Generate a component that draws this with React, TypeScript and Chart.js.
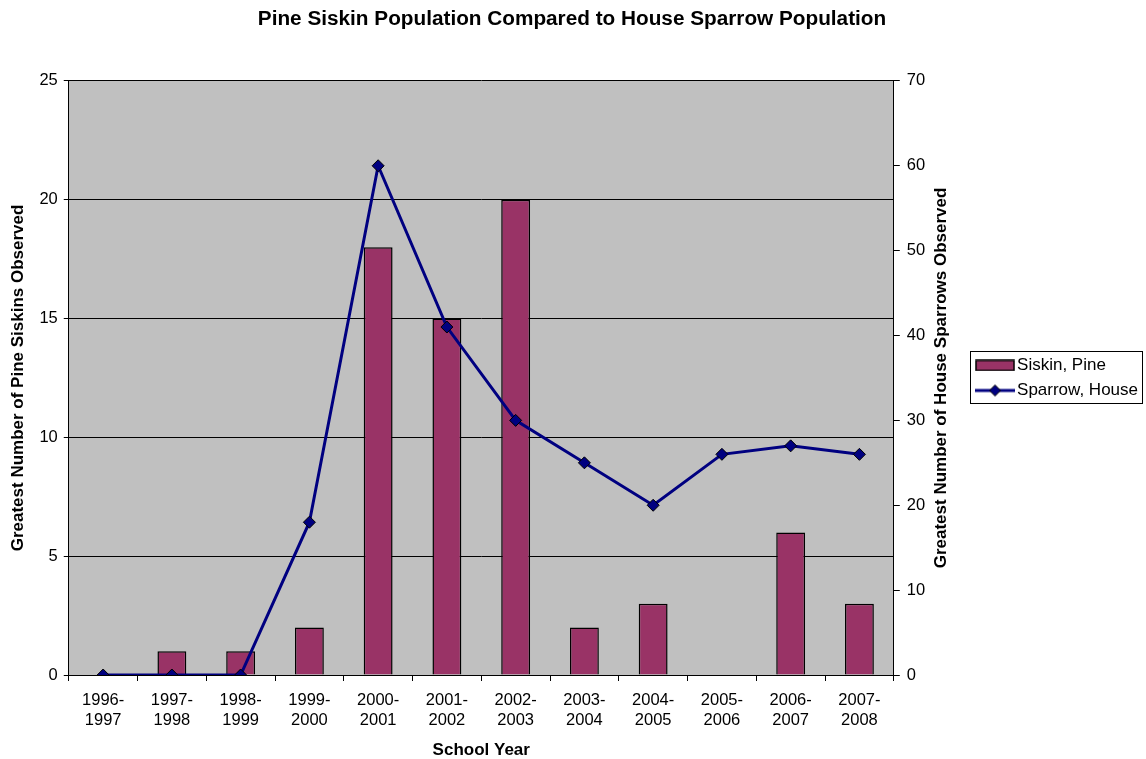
import React, { useEffect, useRef } from "react";
import { Chart, registerables } from "chart.js";

Chart.register(...registerables);

const categories: string[][] = [
  ["1996-", "1997"], ["1997-", "1998"], ["1998-", "1999"], ["1999-", "2000"],
  ["2000-", "2001"], ["2001-", "2002"], ["2002-", "2003"], ["2003-", "2004"],
  ["2004-", "2005"], ["2005-", "2006"], ["2006-", "2007"], ["2007-", "2008"],
];
const siskinPine: number[] = [0, 1, 1, 2, 18, 15, 20, 2, 3, 0, 6, 3];
const sparrowHouse: number[] = [0, 0, 0, 18, 60, 41, 30, 25, 20, 26, 27, 26];

const FONT = "'Liberation Sans', Arial, sans-serif";
const BAR_COLOR = "#993366";
const LINE_COLOR = "#000080";
const TICK_SIZE = 16.5;
const LEGEND_SIZE = 17;
const AXIS_TITLE_SIZE = 17;
const TITLE_SIZE = 20.75;
const TITLE_TEXT = "Pine Siskin Population Compared to House Sparrow Population";

function makeBarSwatch(): HTMLCanvasElement {
  const c = document.createElement("canvas");
  c.width = 40; c.height = 12;
  const ctx = c.getContext("2d")!;
  ctx.fillStyle = BAR_COLOR;
  ctx.fillRect(1, 1, 38, 10);
  ctx.strokeStyle = "#000";
  ctx.lineWidth = 1.5;
  ctx.strokeRect(1, 1, 38, 10);
  return c;
}
function makeLineSwatch(): HTMLCanvasElement {
  const c = document.createElement("canvas");
  c.width = 40; c.height = 14;
  const ctx = c.getContext("2d")!;
  ctx.strokeStyle = LINE_COLOR;
  ctx.lineWidth = 3;
  ctx.beginPath(); ctx.moveTo(0, 7); ctx.lineTo(40, 7); ctx.stroke();
  ctx.fillStyle = LINE_COLOR;
  ctx.strokeStyle = "#000";
  ctx.lineWidth = 1;
  ctx.beginPath();
  ctx.moveTo(20, 1.5); ctx.lineTo(25.5, 7); ctx.lineTo(20, 12.5); ctx.lineTo(14.5, 7); ctx.closePath();
  ctx.fill(); ctx.stroke();
  return c;
}

export default function App() {
  const ref = useRef<HTMLCanvasElement>(null);
  useEffect(() => {
    if (!ref.current) return;
    const barSw = makeBarSwatch();
    const lineSw = makeLineSwatch();
    const rightTitle = "Greatest Number of House Sparrows Observed";

    const plugin = {
      id: "decor",
      beforeDraw(chart: any) {
        const { ctx, chartArea } = chart;
        ctx.save();
        ctx.fillStyle = "#C0C0C0";
        ctx.fillRect(chartArea.left, chartArea.top, chartArea.right - chartArea.left, chartArea.bottom - chartArea.top);
        ctx.restore();
      },
      afterDraw(chart: any) {
        const { ctx } = chart;
        // main title
        const tb = chart.titleBlock;
        if (tb) {
          ctx.save();
          ctx.font = `bold ${TITLE_SIZE}px ${FONT}`;
          ctx.fillStyle = "#000";
          ctx.textAlign = "center";
          ctx.textBaseline = "middle";
          const ty = tb.top + 7 + (TITLE_SIZE * 1.2) / 2;
          ctx.fillText(TITLE_TEXT, chart.width / 2 - 1, ty);
          ctx.restore();
        }
        const lg = chart.legend;
        if (lg && lg.legendHitBoxes && lg.legendHitBoxes.length) {
          const hb = lg.legendHitBoxes;
          let l = Infinity, t = Infinity, r = -Infinity, b = -Infinity;
          hb.forEach((h: any) => {
            l = Math.min(l, h.left); t = Math.min(t, h.top);
            r = Math.max(r, h.left + h.width); b = Math.max(b, h.top + h.height);
          });
          ctx.save();
          ctx.strokeStyle = "#000";
          ctx.lineWidth = 1;
          ctx.strokeRect(Math.round(l - 11.5) + 0.5, Math.round(t - 5.5) + 0.5, Math.round(r - l + 16), Math.round(b - t + 10));
          ctx.restore();
        }
        const y1 = chart.scales.y1;
        if (y1) {
          ctx.save();
          ctx.font = `bold ${AXIS_TITLE_SIZE}px ${FONT}`;
          ctx.fillStyle = "#000";
          ctx.textAlign = "center";
          ctx.textBaseline = "middle";
          const x = chart.chartArea.right + 48;
          const y = (chart.chartArea.top + chart.chartArea.bottom) / 2;
          ctx.translate(x, y);
          ctx.rotate(-Math.PI / 2);
          ctx.fillText(rightTitle, 0, 0);
          ctx.restore();
        }
      },
    };

    const chart = new Chart(ref.current, {
      type: "bar",
      data: {
        labels: categories,
        datasets: [
          {
            type: "bar",
            label: "Siskin, Pine",
            data: siskinPine,
            backgroundColor: BAR_COLOR,
            borderColor: "#000",
            borderWidth: 1.5,
            barPercentage: 0.42,
            categoryPercentage: 1,
            yAxisID: "y",
            order: 2,
          } as any,
          {
            type: "line",
            label: "Sparrow, House",
            data: sparrowHouse,
            borderColor: LINE_COLOR,
            backgroundColor: LINE_COLOR,
            borderWidth: 3,
            tension: 0,
            pointStyle: "rectRot",
            pointRadius: 6,
            pointBorderColor: "#000",
            pointBackgroundColor: LINE_COLOR,
            pointBorderWidth: 1,
            yAxisID: "y1",
            order: 1,
          } as any,
        ],
      },
      options: {
        animation: false,
        responsive: false,
        maintainAspectRatio: false,
        layout: { padding: { left: 8, right: -2, top: 0, bottom: -2 } },
        plugins: {
          title: {
            display: true,
            text: TITLE_TEXT,
            color: "rgba(0,0,0,0)",
            font: { family: FONT, size: TITLE_SIZE, weight: "bold" },
            padding: { top: 7, bottom: 49 },
          },
          tooltip: { enabled: false },
          legend: {
            display: true,
            position: "right",
            fullSize: false,
            labels: {
              color: "#000",
              font: { family: FONT, size: LEGEND_SIZE },
              usePointStyle: true,
              pointStyleWidth: 27,
              boxHeight: 12,
              padding: 8,
              sort: (a: any, b: any) => a.datasetIndex - b.datasetIndex,
              generateLabels: (chart: any) =>
                chart.data.datasets.map((ds: any, i: number) => ({
                  text: ds.label,
                  datasetIndex: i,
                  pointStyle: i === 0 ? barSw : lineSw,
                  fillStyle: "transparent",
                  strokeStyle: "transparent",
                  lineWidth: 0,
                  hidden: false,
                  fontColor: "#000",
                })),
            },
          },
        },
        scales: {
          x: {
            offset: true,
            grid: { display: true, drawOnChartArea: false, offset: true, color: "#000", tickLength: 6, tickWidth: 1 },
            border: { display: true, color: "#000", width: 1 },
            ticks: { color: "#000", font: { family: FONT, size: TICK_SIZE, lineHeight: 1.2 }, maxRotation: 0, autoSkip: false, padding: 10 },
            title: { display: true, text: "School Year", color: "#000", font: { family: FONT, size: AXIS_TITLE_SIZE, weight: "bold" }, padding: { top: 0, bottom: 0 } },
          },
          y: {
            position: "left",
            min: 0,
            max: 25,
            ticks: { stepSize: 5, color: "#000", font: { family: FONT, size: TICK_SIZE }, padding: 6 },
            grid: { color: "#000", tickLength: 5, lineWidth: 1 },
            border: { display: true, color: "#000", width: 1 },
            title: { display: true, text: "Greatest Number of Pine Siskins Observed", color: "#000", font: { family: FONT, size: AXIS_TITLE_SIZE, weight: "bold" }, padding: { top: 0, bottom: 5 } },
          },
          y1: {
            position: "right",
            min: 0,
            max: 70,
            ticks: { stepSize: 10, color: "#000", font: { family: FONT, size: TICK_SIZE }, padding: 7 },
            grid: { drawOnChartArea: false, color: "#000", tickLength: 6 },
            border: { display: true, color: "#000", width: 1 },
            title: { display: true, text: rightTitle, color: "rgba(0,0,0,0)", font: { family: FONT, size: AXIS_TITLE_SIZE, weight: "bold" }, padding: { top: 7, bottom: 14 } },
          },
        },
      },
      plugins: [plugin],
    } as any);
    return () => chart.destroy();
  }, []);

  return (
    <div style={{ position: "fixed", left: 0, top: 0, width: 1146, height: 759, background: "#fff" }}>
      <canvas ref={ref} width={1146} height={759} style={{ display: "block" }} />
    </div>
  );
}
